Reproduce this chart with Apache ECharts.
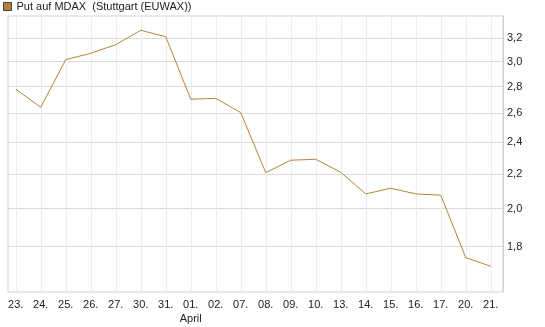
<!DOCTYPE html>
<html>
<head>
<meta charset="utf-8">
<script src="https://cdn.jsdelivr.net/npm/echarts@6/dist/echarts.min.js"></script>
<style>html,body{margin:0;padding:0;background:#fff}#c{width:545px;height:327px}</style>
</head>
<body>
<div id="c"></div>
<script>
var categories = ['23.','24.','25.','26.','27.','30.','31.','01.','02.','07.','08.','09.','10.','13.','14.','15.','16.','17.','20.','21.'];
var values = [2.78,2.645,3.016,3.07,3.144,3.271,3.214,2.704,2.711,2.606,2.208,2.285,2.291,2.21,2.082,2.115,2.082,2.075,1.746,1.705];
var yTicks = [1.8,2.0,2.2,2.4,2.6,2.8,3.0,3.2];
var seriesName = 'Put auf MDAX  (Stuttgart (EUWAX))';
var monthLabel = 'April';
var monthIndex = 7;

var idx = categories.map(function(_, i){ return i; });
var chart = echarts.init(document.getElementById('c'), null, {renderer:'canvas'});
chart.setOption({
  animation: false,
  textStyle: {fontFamily: 'Liberation Sans, Arial, sans-serif'},
  legend: {
    left: 3, top: 1, padding: 0, itemWidth: 8, itemHeight: 8, itemGap: 5,
    icon: 'rect',
    textStyle: {fontSize: 11, color: '#222', fontFamily: 'Liberation Sans'},
    itemStyle: {borderColor: '#444', borderWidth: 1},
    data: [seriesName]
  },
  grid: {left: 8, right: 42, top: 16, bottom: 35, show: true, borderColor: '#d0d0d0', borderWidth: 1, containLabel: false},
  xAxis: {
    type: 'value', min: -0.31, max: 19.49,
    axisLine: {show: false, onZero: false},
    axisTick: {show: false, customValues: idx},
    splitLine: {show: true, lineStyle: {color: '#ececec', width: 1}},
    axisLabel: {
      customValues: idx, margin: 6, fontSize: 11, color: '#222', lineHeight: 14,
      formatter: function(v){ var i = Math.round(v); return i === monthIndex ? categories[i] + '\n' + monthLabel : categories[i]; }
    }
  },
  yAxis: {
    type: 'log', logBase: 10, min: 1.588, max: 3.403, position: 'right',
    axisLine: {show: true, onZero: false, lineStyle: {color: '#d0d0d0'}},
    axisTick: {show: false, customValues: yTicks},
    splitLine: {show: true, lineStyle: {color: '#dcdcdc', width: 1}},
    axisLabel: {
      customValues: yTicks, margin: 4, fontSize: 11, color: '#222',
      formatter: function(v){ return v.toFixed(1).replace('.', ','); }
    }
  },
  series: [{
    name: seriesName, type: 'line', showSymbol: false,
    data: values.map(function(v, i){ return [i, v]; }),
    lineStyle: {color: '#b5823a', width: 1},
    itemStyle: {color: '#b5823a'}
  }]
});
</script>
</body>
</html>
